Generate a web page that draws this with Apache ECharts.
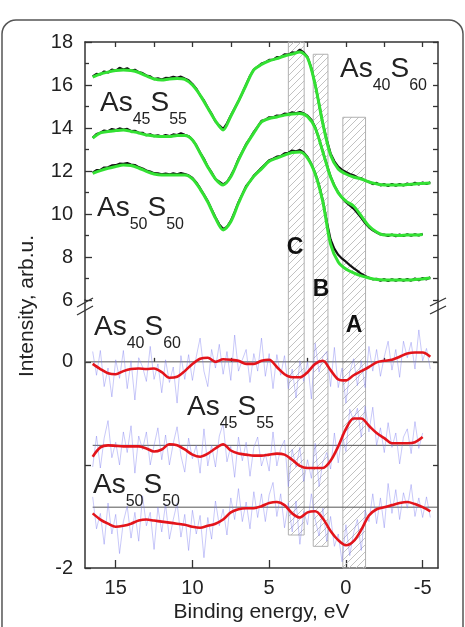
<!DOCTYPE html>
<html>
<head>
<meta charset="utf-8">
<script src="https://cdn.jsdelivr.net/npm/echarts@6.0.0/dist/echarts.min.js"></script>
<style>
  html, body { margin: 0; padding: 0; background: #fff; }
  #main { width: 465px; height: 627px; }
</style>
</head>
<body>
<div id="main"></div>
<script>
// binding energy grids, eV
var eHalf = [16.5,16,15.5,15,14.5,14,13.5,13,12.5,12,11.5,11,10.5,10,9.5,9,8.5,8,7.5,7,6.5,6,5.5,5,4.5,4,3.5,3,2.5,2,1.5,1,0.5,0,-0.5,-1,-1.5,-2,-2.5,-3,-3.5,-4,-4.5,-5,-5.5];
var eQuarter = [16.5,16.25,16,15.75,15.5,15.25,15,14.75,14.5,14.25,14,13.75,13.5,13.25,13,12.75,12.5,12.25,12,11.75,11.5,11.25,11,10.75,10.5,10.25,10,9.75,9.5,9.25,9,8.75,8.5,8.25,8,7.75,7.5,7.25,7,6.75,6.5,6.25,6,5.75,5.5,5.25,5,4.75,4.5,4.25,4,3.75,3.5,3.25,3,2.75,2.5,2.25,2,1.75,1.5,1.25,1,0.75,0.5,0.25,0,-0.25,-0.5,-0.75,-1,-1.25,-1.5,-1.75,-2,-2.25,-2.5,-2.75,-3,-3.25,-3.5,-3.75,-4,-4.25,-4.5,-4.75,-5,-5.25,-5.5];

// upper panel: measured spectra (black) and reference spectra (green)
var black40 = [16.40,16.52,16.49,16.63,16.58,16.72,16.66,16.80,16.72,16.78,
  16.66,16.71,16.60,16.55,16.44,16.40,16.27,16.31,16.25,16.33,
  16.32,16.38,16.33,16.39,16.30,16.22,16.05,15.83,15.52,15.28,
  14.95,14.66,14.30,14.12,13.95,14.22,14.58,14.92,15.25,15.62,
  16.02,16.42,16.72,16.85,17.00,17.05,17.17,17.17,17.30,17.30,
  17.42,17.41,17.52,17.50,17.65,17.52,17.30,16.78,16.02,15.12,
  14.20,13.45,12.82,12.45,12.20,12.05,11.95,11.86,11.80,11.70,
  11.66,11.55,11.50,11.39,11.45,11.33,11.39,11.30,11.40,11.31,
  11.40,11.33,11.42,11.35,11.45,11.37,11.47,11.39,11.48];
var black45 = [13.55,13.72,13.78,13.88,13.85,13.95,13.90,13.98,13.93,13.96,
  13.86,13.87,13.78,13.78,13.66,13.71,13.62,13.66,13.60,13.67,
  13.62,13.70,13.67,13.75,13.68,13.62,13.45,13.20,12.86,12.57,
  12.20,11.94,11.62,11.50,11.38,11.49,11.78,12.12,12.56,12.90,
  13.26,13.52,13.82,14.06,14.33,14.38,14.50,14.49,14.58,14.57,
  14.67,14.65,14.73,14.68,14.74,14.68,14.57,14.38,14.03,13.50,
  12.90,12.30,11.75,11.33,11.00,10.75,10.55,10.40,10.25,10.04,
  9.82,9.58,9.38,9.24,9.14,9.05,9.04,8.98,9.05,8.97,
  9.04,8.98,9.06,8.99,9.06,9.00,9.08];
var black50 = [11.92,12.04,12.05,12.16,12.17,12.26,12.27,12.34,12.33,12.37,
  12.30,12.28,12.18,12.12,12.02,11.97,11.90,11.89,11.85,11.88,
  11.84,11.89,11.85,11.90,11.86,11.80,11.68,11.47,11.20,10.90,
  10.60,10.22,9.85,9.52,9.30,9.40,9.68,10.10,10.55,10.92,
  11.30,11.52,11.79,11.96,12.15,12.32,12.50,12.57,12.67,12.69,
  12.82,12.85,12.95,12.92,12.98,12.86,12.65,12.32,11.90,11.35,
  10.62,9.65,8.82,8.38,8.10,7.92,7.78,7.62,7.48,7.35,
  7.22,7.12,7.04,6.96,6.99,6.90,6.97,6.88,6.97,6.89,
  6.98,6.90,6.97,6.90,7.00,6.92,7.02,6.96,7.06];
var green40 = [16.37,16.51,16.6,16.67,16.7,16.67,16.58,16.42,16.28,16.23,16.28,16.3,16.26,16.0,15.53,14.93,14.33,13.91,14.55,15.25,16.0,16.7,16.95,17.12,17.23,17.35,17.44,17.53,17.26,16.0,14.19,12.74,12.09,11.86,11.72,11.63,11.49,11.4,11.35,11.35,11.35,11.37,11.4,11.42,11.44];
var green45 = [13.53,13.77,13.84,13.88,13.91,13.84,13.77,13.67,13.63,13.6,13.6,13.65,13.65,13.44,12.84,12.19,11.63,11.35,11.73,12.51,13.21,13.77,14.28,14.44,14.51,14.6,14.65,14.67,14.53,14.0,12.88,11.72,10.98,10.6,10.37,9.91,9.44,9.16,9.02,9.02,9.0,9.02,9.02,9.05];
var green50 = [11.89,12.02,12.13,12.21,12.28,12.26,12.14,11.98,11.86,11.81,11.81,11.81,11.81,11.63,11.16,10.56,9.81,9.26,9.64,10.5,11.25,11.75,12.1,12.45,12.6,12.74,12.86,12.88,12.6,11.86,10.55,8.6,7.77,7.44,7.26,7.12,7.02,6.95,6.93,6.93,6.93,6.93,6.95,6.98,7.02];

// lower panel: difference spectra (blue, raw) and smoothed (red)
var blue40 = [0.10,-0.13,0.11,-0.24,-0.06,-0.34,0.02,-0.16,0.11,-0.26,
  0.01,-0.37,0.04,-0.05,-0.19,0.15,-0.17,-0.02,-0.30,0.02,
  -0.20,-0.05,-0.40,0.06,-0.17,0.07,-0.18,0.05,0.23,-0.09,
  -0.24,0.12,-0.06,0.17,-0.12,0.10,-0.18,0.26,-0.09,0.02,
  0.12,-0.20,0.08,-0.09,0.23,-0.14,0.08,-0.26,0.07,-0.13,
  0.06,-0.26,-0.07,-0.35,0.01,-0.19,0.00,-0.36,0.18,-0.10,
  0.05,0.10,-0.24,0.14,-0.25,-0.06,-0.40,-0.10,0.03,-0.23,
  0.01,-0.25,0.15,-0.09,0.12,-0.14,0.05,0.20,-0.08,0.12,
  -0.15,0.20,0.04,0.19,-0.07,0.31,0.01,0.13,-0.07];
var blue45 = [-1.02,-0.72,-1.03,-0.74,-0.57,-0.93,-0.78,-1.00,-0.68,-0.88,
  -0.62,-1.08,-0.72,-0.85,-0.68,-1.00,-0.81,-0.64,-0.95,-0.71,
  -1.00,-0.79,-0.63,-0.91,-1.07,-0.74,-0.94,-0.81,-1.08,-0.65,
  -1.01,-0.81,-1.02,-0.72,-0.60,-0.97,-0.82,-1.12,-0.73,-0.96,
  -0.78,-1.11,-0.83,-0.73,-1.01,-0.89,-1.06,-0.68,-1.01,-0.84,
  -0.76,-1.21,-0.85,-1.02,-0.83,-1.16,-0.95,-1.13,-0.79,-1.21,
  -0.97,-0.88,-1.04,-0.69,-0.98,-0.70,-0.87,-0.46,-0.57,-0.45,
  -0.73,-0.43,-0.68,-0.44,-0.81,-0.64,-0.88,-0.59,-0.83,-0.69,
  -0.99,-0.73,-0.65,-0.89,-0.58,-0.84,-0.69];
var blue50 = [-1.31,-1.62,-1.47,-1.77,-1.37,-1.67,-1.48,-1.86,-1.55,-1.40,
  -1.71,-1.46,-1.74,-1.30,-1.59,-1.46,-1.82,-1.41,-1.65,-1.38,
  -1.72,-1.53,-1.37,-1.70,-1.48,-1.83,-1.44,-1.67,-1.49,-1.90,
  -1.51,-1.72,-1.35,-1.59,-1.43,-1.68,-1.32,-1.53,-1.23,-1.55,
  -1.36,-1.62,-1.26,-1.51,-1.28,-1.55,-1.29,-1.17,-1.50,-1.28,
  -1.61,-1.37,-1.65,-1.35,-1.77,-1.45,-1.58,-1.28,-1.53,-1.69,
  -1.42,-1.74,-1.50,-1.79,-1.67,-1.94,-1.58,-1.88,-1.66,-1.53,
  -1.83,-1.44,-1.55,-1.28,-1.57,-1.32,-1.61,-1.18,-1.47,-1.24,
  -1.53,-1.27,-1.42,-1.19,-1.50,-1.32,-1.51,-1.31,-1.51];
var red40 = [-0.02,-0.07,-0.11,-0.12,-0.09,-0.07,-0.065,-0.07,-0.065,-0.1,-0.155,-0.145,-0.09,-0.02,0.03,0.04,0.0,0.025,0.02,0.01,-0.02,-0.02,0.01,0.02,-0.05,-0.12,-0.15,-0.15,-0.1,-0.02,0.01,-0.08,-0.17,-0.18,-0.13,-0.09,-0.05,-0.005,0.01,0.02,0.05,0.08,0.09,0.09,0.05];
var red45 = [-0.92,-0.83,-0.81,-0.815,-0.82,-0.82,-0.82,-0.84,-0.87,-0.85,-0.80,-0.81,-0.85,-0.9,-0.92,-0.89,-0.84,-0.80,-0.86,-0.89,-0.9,-0.91,-0.91,-0.9,-0.89,-0.9,-0.95,-1.01,-1.03,-1.03,-1.03,-0.96,-0.82,-0.65,-0.55,-0.55,-0.62,-0.69,-0.74,-0.79,-0.79,-0.79,-0.78,-0.73];
var red50 = [-1.47,-1.53,-1.57,-1.6,-1.59,-1.57,-1.54,-1.53,-1.54,-1.55,-1.56,-1.57,-1.58,-1.6,-1.61,-1.59,-1.57,-1.53,-1.46,-1.43,-1.42,-1.42,-1.4,-1.37,-1.36,-1.39,-1.47,-1.51,-1.46,-1.45,-1.52,-1.64,-1.73,-1.78,-1.74,-1.63,-1.49,-1.43,-1.41,-1.39,-1.37,-1.36,-1.38,-1.41,-1.45];

// zero lines of the difference spectra
var baseVal = [0, -0.81, -1.41];
var baseStart = [17, 16.5, 16.5];
var baseEnd = [-6, -5.9, -6];

// hatched regions C, B, A
var bandLeft = [3.75, 2.13, 0.2];
var bandRight = [2.72, 1.17, -1.28];
var bandTop = [18, 17.43, 14.5];
var bandBottom = [-1.68, -1.79, -2];

var xTop = [15, 12.5, 10, 7.5, 5, 2.5, 0, -2.5, -5];
var xMajor = [15, 10, 5, 0, -5];
var xMinor = [12.5, 7.5, 2.5, -2.5];

var FONT = '"Liberation Sans", Arial, sans-serif';
var AX = '#333';

function pairs(xs, ys) {
  return ys.map(function (v, i) { return [xs[i], v]; });
}

var hc = document.createElement('canvas');
hc.width = 7; hc.height = 7;
var hx = hc.getContext('2d');
hx.strokeStyle = '#c2c2c2';
hx.lineWidth = 1;
hx.beginPath();
hx.moveTo(0, 7); hx.lineTo(7, 0);
hx.moveTo(-1, 1); hx.lineTo(1, -1);
hx.moveTo(6, 8); hx.lineTo(8, 6);
hx.stroke();
var hatch = { image: hc, repeat: 'repeat' };

function bandSeries(xi, yi, upper) {
  return {
    type: 'custom', xAxisIndex: xi, yAxisIndex: yi, silent: true, z: 1,
    encode: { x: [0, 1], y: [2, 3] },
    data: bandLeft.map(function (l, i) {
      return upper ? [l, bandRight[i], bandTop[i], 6] : [l, bandRight[i], 0.6, bandBottom[i]];
    }),
    renderItem: function (params, api) {
      var p1 = api.coord([api.value(0), api.value(2)]);
      var p2 = api.coord([api.value(1), api.value(3)]);
      var x1 = p1[0], y1 = p1[1], x2 = p2[0], y2 = p2[1];
      var edge = upper ? [[x1, y2], [x1, y1], [x2, y1], [x2, y2]] : [[x1, y1], [x1, y2], [x2, y2], [x2, y1]];
      return {
        type: 'group',
        children: [
          { type: 'rect', shape: { x: x1, y: y1, width: x2 - x1, height: y2 - y1 }, style: { fill: hatch } },
          { type: 'polyline', shape: { points: edge }, style: { fill: null, stroke: '#b0b0b0', lineWidth: 1 } }
        ]
      };
    }
  };
}

function line(xi, yi, data, color, width, smooth, z) {
  return {
    type: 'line', xAxisIndex: xi, yAxisIndex: yi, data: data, symbol: 'none',
    smooth: smooth, silent: true, z: z,
    lineStyle: { color: color, width: width }
  };
}

var series = [bandSeries(0, 0, true), bandSeries(1, 2, false)];
[black40, black45, black50].forEach(function (b) {
  series.push(line(0, 0, pairs(eQuarter, b), '#111', 2.2, false, 3));
});
[green40, green45, green50].forEach(function (g) {
  series.push(line(0, 0, pairs(eHalf, g), '#33e133', 3, 0.3, 4));
});
baseVal.forEach(function (v, i) {
  series.push(line(1, 2, [[baseStart[i], v], [baseEnd[i], v]], '#555', 1, false, 2));
});
[blue40, blue45, blue50].forEach(function (b) {
  series.push(line(1, 2, pairs(eQuarter, b), 'rgba(120,120,240,0.5)', 0.8, false, 3));
});
[red40, red45, red50].forEach(function (r) {
  series.push(line(1, 2, pairs(eHalf, r), '#e3141b', 2.6, 0.3, 4));
});

// text helpers
var mctx = document.createElement('canvas').getContext('2d');
function tw(t, f) { mctx.font = f + 'px ' + FONT; return mctx.measureText(t).width; }
function txt(x, y, t, f, extra) {
  var s = { text: t, x: x, y: y, font: (extra || '') + f + 'px ' + FONT, fill: '#222', textAlign: 'left', textVerticalAlign: 'middle' };
  return { type: 'text', style: s, silent: true, z: 10 };
}
function formula(x, base, n1, n2) {
  var big = 28, sm = 16, out = [];
  var cy = base - 10, sy = base + 12 - 5.7;
  out.push(txt(x, cy, 'As', big)); x += tw('As', big);
  out.push(txt(x, sy, n1, sm)); x += tw(n1, sm);
  out.push(txt(x, cy, 'S', big)); x += tw('S', big);
  out.push(txt(x, sy, n2, sm));
  return out;
}
function letter(cx, cy, t) {
  var e = txt(cx, cy, t, 23, 'bold ');
  e.style.textAlign = 'center';
  e.style.fill = '#111';
  return e;
}

var graphics = [
  { type: 'rect', shape: { x: 2, y: 20, width: 461, height: 640, r: 14 }, style: { fill: null, stroke: '#555', lineWidth: 1.5 }, silent: true, z: -10 },
  { type: 'line', shape: { x1: 77, y1: 307, x2: 93, y2: 298 }, style: { stroke: AX, lineWidth: 1.3 }, z: 10 },
  { type: 'line', shape: { x1: 77, y1: 315, x2: 93, y2: 306 }, style: { stroke: AX, lineWidth: 1.3 }, z: 10 },
  { type: 'line', shape: { x1: 430, y1: 306, x2: 446, y2: 298 }, style: { stroke: AX, lineWidth: 1.3 }, z: 10 },
  { type: 'line', shape: { x1: 430, y1: 314, x2: 446, y2: 306 }, style: { stroke: AX, lineWidth: 1.3 }, z: 10 },
  { type: 'text', x: 27, y: 306, rotation: Math.PI / 2, silent: true,
    style: { text: 'Intensity, arb.u.', font: '21px ' + FONT, fill: '#222', textAlign: 'center', textVerticalAlign: 'middle' } },
  letter(295, 248, 'C'), letter(321, 290, 'B'), letter(354, 326, 'A')
]
  .concat(formula(100, 113, '45', '55'))
  .concat(formula(97, 218, '50', '50'))
  .concat(formula(340, 79, '40', '60'))
  .concat(formula(94, 337, '40', '60'))
  .concat(formula(187, 417, '45', '55'))
  .concat(formula(93, 495, '50', '50'));

var axLine = { show: true, onZero: false, lineStyle: { color: AX, width: 1.5 } };
var tickStyle = { color: AX, width: 1.3 };
var lab = { fontSize: 20, color: '#222', fontFamily: FONT };

var option = {
  animation: false,
  backgroundColor: '#fff',
  grid: [
    { left: 85, right: 27, top: 42, height: 258, outerBoundsMode: 'none' },
    { left: 85, right: 27, top: 300, height: 268, outerBoundsMode: 'none' }
  ],
  xAxis: [
    { gridIndex: 0, type: 'value', position: 'top', min: -6, max: 17, inverse: true,
      axisLine: axLine, splitLine: { show: false }, axisLabel: { show: false },
      axisTick: { inside: true, length: 5, lineStyle: tickStyle, customValues: xTop } },
    { gridIndex: 1, type: 'value', position: 'bottom', min: -6, max: 17, inverse: true,
      axisLine: axLine, splitLine: { show: false },
      axisTick: { inside: true, length: 8, lineStyle: tickStyle, customValues: xMajor },
      axisLabel: Object.assign({ margin: 10, customValues: xMajor }, lab),
      name: 'Binding energy, eV', nameLocation: 'middle', nameGap: 34, nameMoveOverlap: false,
      nameTextStyle: { fontSize: 21, color: '#222', fontFamily: FONT } },
    { gridIndex: 1, type: 'value', position: 'bottom', min: -6, max: 17, inverse: true,
      axisLine: { show: false }, splitLine: { show: false }, axisLabel: { show: false },
      axisTick: { inside: true, length: 4, lineStyle: tickStyle, customValues: xMinor } }
  ],
  yAxis: [
    { gridIndex: 0, type: 'value', position: 'left', min: 6, max: 18, interval: 2,
      axisLine: axLine, splitLine: { show: false },
      axisTick: { inside: true, length: 7, lineStyle: tickStyle },
      minorTick: { show: true, splitNumber: 2, length: 4, lineStyle: tickStyle },
      axisLabel: Object.assign({ margin: 12 }, lab) },
    { gridIndex: 0, type: 'value', position: 'right', min: 6, max: 18, interval: 1,
      axisLine: axLine, splitLine: { show: false }, axisLabel: { show: false },
      axisTick: { inside: true, length: 5, lineStyle: tickStyle } },
    { gridIndex: 1, type: 'value', position: 'left', min: -2, max: 0.6,
      axisLine: axLine, splitLine: { show: false },
      axisTick: { inside: true, length: 6, lineStyle: tickStyle, customValues: [0, -1, -2] },
      axisLabel: Object.assign({ margin: 12, customValues: [0, -2] }, lab) },
    { gridIndex: 1, type: 'value', position: 'right', min: -2, max: 0.6,
      axisLine: axLine, splitLine: { show: false }, axisLabel: { show: false },
      axisTick: { inside: true, length: 5, lineStyle: tickStyle, customValues: [0, -1] } }
  ],
  graphic: graphics,
  series: series
};

var chart = echarts.init(document.getElementById('main'));
chart.setOption(option);
</script>
</body>
</html>
